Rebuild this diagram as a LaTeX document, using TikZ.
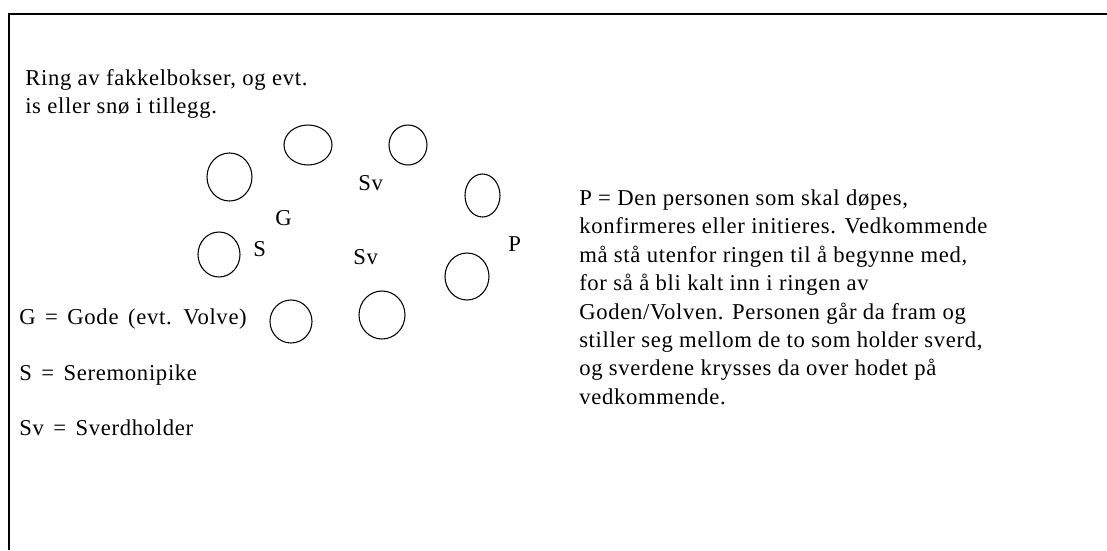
\documentclass[tikz,border=0pt]{standalone}
\usepackage{fontspec}
\setmainfont[LetterSpace=3]{Liberation Serif}
\newfontfamily\legendfont[LetterSpace=3,WordSpace=1.5]{Liberation Serif}

\begin{document}
\begin{tikzpicture}[x=0.75pt,y=-0.75pt,
        txt/.style={anchor=base west,inner sep=0pt,font=\fontsize{17}{21}\selectfont},
        legend/.style={txt,font=\fontsize{17}{21}\legendfont},
        torch/.style={line width=0.8pt}]
        \useasboundingbox (0,0) rectangle (1107,550);

        % Frame
        \draw[line width=1.1pt] (9,550) -- (9,14) -- (1107,14);

        % Title
        \node[txt] (title1) at (25,85.5) {Ring av fakkelbokser, og evt.};
        \node[txt] (title2) at (25,113) {is eller snø i tillegg.};

        % Ring of torch boxes
        \foreach \cx/\cy/\rx/\ry in {229.5/177/22.5/24, 308/145/24/20, 408/145/19/20,
                482.5/195.5/17.5/21.5, 219/254.5/21/22.5, 291/321.5/21/21.5,
                382/315/23/24, 467/276.5/22/23.5}
            \draw[torch] (\cx,\cy) ellipse [x radius=\rx, y radius=\ry];

        % People in the ring
        \node[txt] (sv1) at (358,190) {Sv};
        \node[txt] (g) at (275,225) {G};
        \node[txt] (s) at (253,256.5) {S};
        \node[txt] (sv2) at (353,264) {Sv};
        \node[txt] (p) at (508,251) {P};

        % Legend
        \node[legend] (leg1) at (19,324) {G = Gode (evt. Volve)};
        \node[legend] (leg2) at (19,380) {S = Seremonipike};
        \node[legend] (leg3) at (19,435) {Sv = Sverdholder};

        % Explanation
        \foreach \t [count=\i] in {{P = Den personen som skal døpes,},
                {konfirmeres eller initieres. Vedkommende},
                {må stå utenfor ringen til å begynne med,},
                {for så å bli kalt inn i ringen av},
                {Goden/Volven. Personen går da fram og},
                {stiller seg mellom de to som holder sverd,},
                {og sverdene krysses da over hodet på},
                {vedkommende.}}
            \node[txt] (note\i) at (579,{205.5+28.4*(\i-1)}) {\t};
    \end{tikzpicture}
\end{document}
